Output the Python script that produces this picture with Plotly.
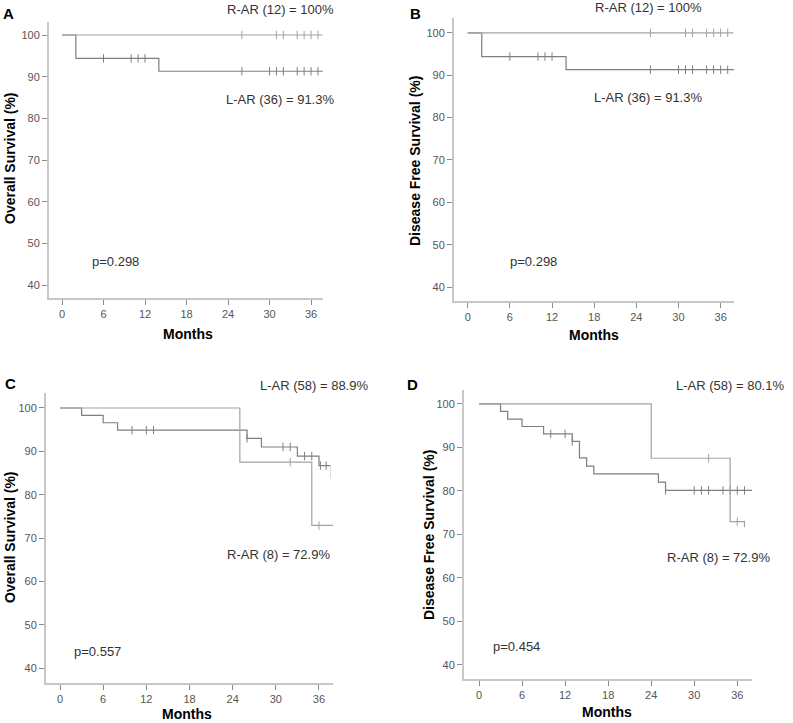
import plotly.graph_objects as go

W, H = 793, 723
FONT = "Liberation Sans, Arial, sans-serif"

# ---------------- data ----------------
# Panel A: Overall survival (R-AR vs L-AR, small cohort)
a_rar_t = [0, 37.7]
a_rar_s = [100, 100]
a_rar_ct = [26, 31, 32, 34, 35, 36, 37]
a_rar_cs = [100, 100, 100, 100, 100, 100, 100]
a_lar_t = [0, 2, 14, 37.7]
a_lar_s = [100, 94.4, 91.3, 91.3]
a_lar_ct = [6, 10, 11, 12, 26, 30, 31, 32, 34, 35, 36, 37]
a_lar_cs = [94.4, 94.4, 94.4, 94.4, 91.3, 91.3, 91.3, 91.3, 91.3, 91.3, 91.3, 91.3]

# Panel B: Disease free survival
b_rar_t = [0, 37.8]
b_rar_s = [100, 100]
b_rar_ct = [26, 31, 32, 34, 35, 36, 37]
b_rar_cs = [100, 100, 100, 100, 100, 100, 100]
b_lar_t = [0, 2, 14, 37.9]
b_lar_s = [100, 94.4, 91.3, 91.3]
b_lar_ct = [6, 10, 11, 12, 26, 30, 31, 32, 34, 35, 36, 37]
b_lar_cs = [94.4, 94.4, 94.4, 94.4, 91.3, 91.3, 91.3, 91.3, 91.3, 91.3, 91.3, 91.3]

# Panel C: Overall survival (larger cohort)
c_rar_t = [0, 25, 35, 38]
c_rar_s = [100, 87.5, 72.9, 72.9]
c_rar_ct = [32, 36]
c_rar_cs = [87.5, 72.9]
c_lar_t = [0, 3, 6, 8, 26, 28, 33, 36, 37.6]
c_lar_s = [100, 98.3, 96.6, 94.9, 93.0, 91.0, 88.9, 86.7, 86.7]
c_lar_ct = [10, 12, 13, 26, 31, 32, 34, 35, 36.2, 37]
c_lar_cs = [94.9, 94.9, 94.9, 93.0, 91.0, 91.0, 88.9, 88.9, 86.7, 86.7]
c_faint_t = [37.6, 37.6]
c_faint_s = [86.7, 83.8]

# Panel D: Disease free survival (larger cohort)
d_rar_t = [0, 24, 35, 37]
d_rar_s = [100, 87.5, 72.9, 71.6]
d_rar_ct = [32, 36]
d_rar_cs = [87.5, 72.9]
d_lar_t = [0, 3, 4, 6, 9, 13, 14, 15, 16, 25, 26, 38.1]
d_lar_s = [100, 98.3, 96.5, 94.8, 93.1, 91.4, 87.6, 85.7, 83.9, 82.0, 80.1, 80.1]
d_lar_ct = [10, 12, 13, 26, 30, 31, 32, 34, 35, 36, 37]
d_lar_cs = [93.1, 93.1, 91.4, 80.1, 80.1, 80.1, 80.1, 80.1, 80.1, 80.1, 80.1]

x_ticks = [0, 6, 12, 18, 24, 30, 36]
y_ticks = [40, 50, 60, 70, 80, 90, 100]

# ---------------- layout helpers ----------------
def px(x):
    return x / W

def py(y):
    return 1 - y / H

# plot-area pixel boxes (left, right, top, bottom) and axis ranges
panels = [
    dict(box=(49, 323, 22, 298), xr=(-1.88, 37.73), yr=(36.88, 103.12)),
    dict(box=(454, 734, 18, 301), xr=(-1.95, 37.9), yr=(36.7, 103.5)),
    dict(box=(46, 333, 393, 683), xr=(-1.95, 37.95), yr=(36.54, 103.46)),
    dict(box=(464, 752, 390, 679), xr=(-2.09, 38.05), yr=(36.7, 103.2)),
]

C_LAR = "#7f7f7f"
C_RAR = "#a3a3a3"

fig = go.Figure()

series = [
    (a_rar_t, a_rar_s, a_rar_ct, a_rar_cs, a_lar_t, a_lar_s, a_lar_ct, a_lar_cs),
    (b_rar_t, b_rar_s, b_rar_ct, b_rar_cs, b_lar_t, b_lar_s, b_lar_ct, b_lar_cs),
    (c_rar_t, c_rar_s, c_rar_ct, c_rar_cs, c_lar_t, c_lar_s, c_lar_ct, c_lar_cs),
    (d_rar_t, d_rar_s, d_rar_ct, d_rar_cs, d_lar_t, d_lar_s, d_lar_ct, d_lar_cs),
]

for i, (rt, rs, rct, rcs, lt, ls, lct, lcs) in enumerate(series):
    xa = "x" if i == 0 else f"x{i+1}"
    ya = "y" if i == 0 else f"y{i+1}"
    for t, s, ct, cs, col in ((lt, ls, lct, lcs, C_LAR), (rt, rs, rct, rcs, C_RAR)):
        fig.add_trace(go.Scatter(x=t, y=s, mode="lines", line=dict(shape="hv", color=col, width=1.2),
                                 xaxis=xa, yaxis=ya, showlegend=False, hoverinfo="skip"))
        fig.add_trace(go.Scatter(x=ct, y=cs, mode="markers",
                                 marker=dict(symbol="line-ns", size=6, line=dict(color=col, width=1)),
                                 xaxis=xa, yaxis=ya, showlegend=False, hoverinfo="skip"))
    if i == 2:
        fig.add_trace(go.Scatter(x=c_faint_t, y=c_faint_s, mode="lines", line=dict(color="#dcdcdc", width=1),
                                 xaxis=xa, yaxis=ya, showlegend=False, hoverinfo="skip"))

layout = dict(width=W, height=H, margin=dict(l=0, r=0, t=0, b=0),
              paper_bgcolor="white", plot_bgcolor="white",
              font=dict(family=FONT, color="#333"))

for i, p in enumerate(panels):
    l, r, t, b = p["box"]
    xk = "xaxis" if i == 0 else f"xaxis{i+1}"
    yk = "yaxis" if i == 0 else f"yaxis{i+1}"
    ya = "y" if i == 0 else f"y{i+1}"
    xa = "x" if i == 0 else f"x{i+1}"
    layout[xk] = dict(domain=[px(l), px(r)], range=list(p["xr"]), anchor=ya,
                      tickvals=x_ticks, ticks="outside", ticklen=5, tickcolor="#8a8a8a",
                      showline=True, linecolor="#c8c8c8", linewidth=2, showgrid=False, zeroline=False,
                      tickfont=dict(size=11, color="#555", family=FONT), fixedrange=True)
    layout[yk] = dict(domain=[py(b), py(t)], range=list(p["yr"]), anchor=xa,
                      tickvals=y_ticks, ticks="outside", ticklen=5, tickcolor="#8a8a8a",
                      showline=True, linecolor="#c8c8c8", linewidth=2, showgrid=False, zeroline=False,
                      tickfont=dict(size=11, color="#555", family=FONT), fixedrange=True)

fig.update_layout(**layout)

def ann(text, x, y, size=13, color="#333", angle=0, xanchor="center"):
    fig.add_annotation(text=text, x=px(x), y=py(y), xref="paper", yref="paper",
                       showarrow=False, xanchor=xanchor, yanchor="middle", textangle=angle,
                       font=dict(size=size, color=color, family=FONT))

# panel letters
ann("<b>A</b>", 8, 13, size=15, color="#000")
ann("<b>B</b>", 415, 13, size=15, color="#000")
ann("<b>C</b>", 10, 383, size=15, color="#000")
ann("<b>D</b>", 412, 384, size=15, color="#000")

# y titles
ann("<b>Overall Survival (%)</b>", 10, 158, size=14, color="#000", angle=-90)
ann("<b>Disease Free Survival (%)</b>", 415, 161, size=14, color="#000", angle=-90)
ann("<b>Overall Survival (%)</b>", 10, 537, size=14, color="#000", angle=-90)
ann("<b>Disease Free Survival (%)</b>", 429, 535, size=14, color="#000", angle=-90)

# x titles
for x, y in ((188, 334), (594, 335), (187, 714), (607, 712)):
    ann("<b>Months</b>", x, y, size=14, color="#000")

# curve labels
ann("R-AR (12) = 100%", 280, 10)
ann("L-AR (36) = 91.3%", 280, 100)
ann("p=0.298", 115, 261)
ann("R-AR (12) = 100%", 648, 8)
ann("L-AR (36) = 91.3%", 648, 98)
ann("p=0.298", 533, 261)
ann("L-AR (58) = 88.9%", 314, 385)
ann("R-AR (8) = 72.9%", 278, 554)
ann("p=0.557", 97, 651)
ann("L-AR (58) = 80.1%", 730, 385)
ann("R-AR (8) = 72.9%", 718, 557)
ann("p=0.454", 516, 646)

fig.write_html("out.html", config={"displayModeBar": False},
               post_script="document.body.style.margin='0';document.body.style.overflow='hidden';")
